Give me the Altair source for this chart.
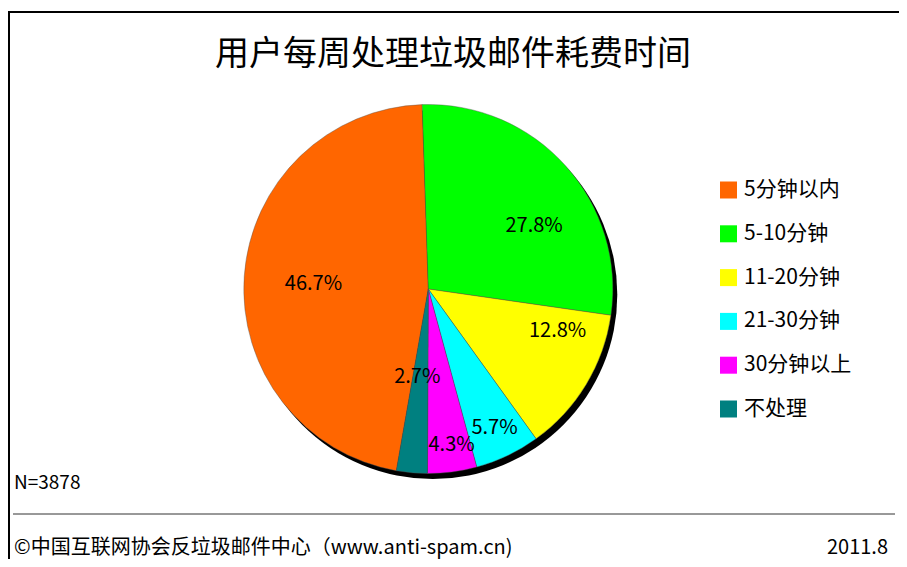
import math
import altair as alt
import pandas as pd

# ---- data ----
title_text = "用户每周处理垃圾邮件耗费时间"
categories = ["5分钟以内", "5-10分钟", "11-20分钟", "21-30分钟", "30分钟以上", "不处理"]
shares = [46.7, 27.8, 12.8, 5.7, 4.3, 2.7]
slice_colors = ["#FF6600", "#00FF00", "#FFFF00", "#00FFFF", "#FF00FF", "#008080"]
pie_sequence = [6, 1, 2, 3, 4, 5]  # clockwise position starting at 12 o'clock
sample_note = "N=3878"
source_note = "©中国互联网协会反垃圾邮件中心（www.anti-spam.cn)"
date_note = "2011.8"

# ---- layout / style ----
W, H = 891, 551
CX, CY, R = 420.3, 281.0, 184.5
START_DEG = -1.9
FONT = "Noto Sans CJK SC"
label_radius = {"5分钟以内": 115, "5-10分钟": 123, "11-20分钟": 136,
                "21-30分钟": 154, "30分钟以上": 158, "不处理": 89}
label_nudge = {"5分钟以内": -1.4, "5-10分钟": 11.2, "11-20分钟": -13.2,
               "21-30分钟": 0, "30分钟以上": -1, "不处理": 2}


def lookup_expr(mapping, default):
    expr = str(default)
    for k, v in mapping.items():
        expr = f"datum.cat === '{k}' ? {v} : ({expr})"
    return expr


df = pd.DataFrame({"cat": categories, "share": shares, "seq": pie_sequence})
one = pd.DataFrame({"k": [0]})

start = START_DEG * math.pi / 180
theta_scale = alt.Scale(range=[start, start + 2 * math.pi])

shadow = alt.Chart(one).mark_arc(
    theta=0, theta2=2 * math.pi, radius=R, color="black"
).encode(x=alt.value(CX + 4.5), y=alt.value(CY + 5.5))

pie = alt.Chart(df).mark_arc(radius=R, stroke="#505050", strokeWidth=0.4).encode(
    theta=alt.Theta("share:Q", stack=True, scale=theta_scale),
    color=alt.Color(
        "cat:N",
        scale=alt.Scale(domain=categories, range=slice_colors),
        legend=alt.Legend(
            orient="none", legendX=710, legendY=171.5, title=None,
            symbolType="square", symbolSize=289, symbolStrokeWidth=0,
            symbolOpacity=1, labelFont=FONT, labelFontSize=21,
            labelColor="black", rowPadding=21.8, labelOffset=5, padding=0,
            labelLimit=300,
        ),
    ),
    order=alt.Order("seq:Q"),
    x=alt.value(CX),
    y=alt.value(CY),
)

labels = alt.Chart(df).transform_joinaggregate(
    total="sum(share)"
).transform_window(
    cum="sum(share)", sort=[alt.SortField("seq", order="ascending")], frame=[None, 0]
).transform_calculate(
    mid="datum.cum - datum.share / 2",
    r=lookup_expr(label_radius, 120),
    nudge=lookup_expr(label_nudge, 0),
).transform_calculate(
    ang=f"({START_DEG} + datum.mid / datum.total * 360 + datum.nudge) * PI / 180"
).transform_calculate(
    lx=f"{CX} + datum.r * sin(datum.ang)",
    ly=f"{CY} - datum.r * cos(datum.ang)",
    lbl="format(datum.share, '.1f') + '%'",
).mark_text(
    font=FONT, fontSize=20, color="black", align="center", baseline="middle"
).encode(
    x=alt.X("lx:Q", scale=None), y=alt.Y("ly:Q", scale=None), text="lbl:N"
)


def note(text, x, y, size, align="left"):
    return alt.Chart(pd.DataFrame({"t": [text]})).mark_text(
        font=FONT, fontSize=size, color="black", align=align, baseline="middle"
    ).encode(x=alt.value(x), y=alt.value(y), text="t:N")


title = note(title_text, 445, 47, 34, align="center")
n_note = note(sample_note, 6, 475, 19)
src = note(source_note, 6, 540, 20)
date = note(date_note, 880, 540, 20, align="right")

frame_top = alt.Chart(one).mark_rule(color="black", strokeWidth=2).encode(
    x=alt.value(0), x2=alt.value(W), y=alt.value(4)
)
frame_left = alt.Chart(one).mark_rule(color="black", strokeWidth=2).encode(
    x=alt.value(1), y=alt.value(3), y2=alt.value(H)
)
sep = alt.Chart(one).mark_rule(color="#333333", strokeWidth=1).encode(
    x=alt.value(5), x2=alt.value(887), y=alt.value(506)
)

chart = alt.layer(
    frame_top, frame_left, sep, shadow, pie, labels, title, n_note, src, date
).properties(
    width=W, height=H, autosize=alt.AutoSizeParams(type="none"), padding=0,
    background="white",
).configure_view(stroke=None)

chart.save("out.html", embed_options={"renderer": "svg", "actions": False})
